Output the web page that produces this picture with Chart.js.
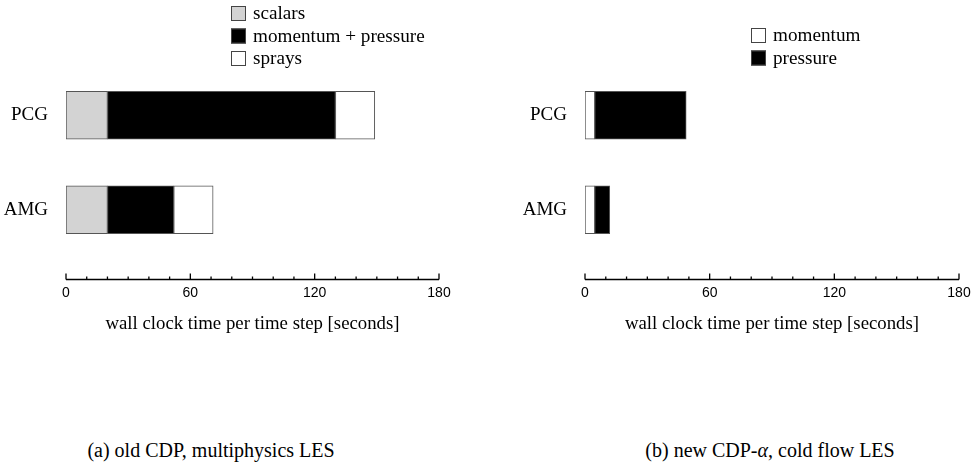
<!DOCTYPE html>
<html>
<head>
<meta charset="utf-8">
<script src="https://cdn.jsdelivr.net/npm/chart.js@4.4.1/dist/chart.umd.min.js"></script>
<style>
  body { margin: 0; background: #fff; width: 971px; height: 467px; position: relative; overflow: hidden; }
  .panel { position: absolute; top: 0; }
  .caption {
    position: absolute; top: 439px; width: 400px; text-align: center;
    font-family: "Liberation Serif", serif; font-size: 20px; color: #000;
  }
</style>
</head>
<body>
<div class="panel" style="left:0"><canvas id="oldChart" width="480" height="345"></canvas></div>
<div class="panel" style="left:480px"><canvas id="newChart" width="491" height="345"></canvas></div>
<div class="caption" style="left:11px">(a) old CDP, multiphysics LES</div>
<div class="caption" style="left:570px">(b) new CDP-<i>α</i>, cold flow LES</div>
<script>
// data (seconds per time step)
const solvers = ["PCG", "AMG"];
const oldScalars = [20, 20];
const oldMomentumPressure = [110, 32];
const oldSprays = [19, 19];
const newMomentum = [4.7, 4.7];
const newPressure = [44, 7.2];
const axisMax = 180;
const majorTicks = [0, 60, 120, 180];

const serif = "'Liberation Serif', 'Times New Roman', serif";
const sans = "'Liberation Sans', Arial, sans-serif";

// legend drawn as a stacked list of boxes, like the latex figure
const boxLegend = {
  id: "boxLegend",
  afterDraw(chart, args, opts) {
    const ctx = chart.ctx;
    ctx.save();
    ctx.font = Chart.helpers.toFont({ family: serif, size: 19.2 }).string;
    ctx.textBaseline = "middle";
    chart.data.datasets.forEach((ds, i) => {
      const top = opts.y + i * 22.5;
      ctx.fillStyle = ds.backgroundColor;
      ctx.fillRect(opts.x, top, 15, 15);
      ctx.strokeStyle = "#444";
      ctx.lineWidth = 1;
      ctx.strokeRect(opts.x + 0.5, top + 0.5, 14, 14);
      ctx.fillStyle = "#000";
      ctx.fillText(ds.label, opts.x + 22, top + 8);
    });
    ctx.restore();
  }
};

// axis line sits a little below the bars, ticks point upward
const upTicks = {
  id: "upTicks",
  afterDraw(chart) {
    const sx = chart.scales.x;
    const ctx = chart.ctx;
    const y = Math.round(chart.chartArea.bottom + 22) + 0.5;
    ctx.save();
    ctx.strokeStyle = "#000";
    ctx.lineWidth = 1.3;
    ctx.beginPath();
    ctx.moveTo(sx.getPixelForValue(0), y);
    ctx.lineTo(sx.getPixelForValue(axisMax), y);
    sx.ticks.forEach(t => {
      const px = sx.getPixelForValue(t.value);
      const len = majorTicks.includes(t.value) ? 6 : 3;
      ctx.moveTo(px, y);
      ctx.lineTo(px, y - len);
    });
    ctx.stroke();
    ctx.restore();
  }
};

function makeChart(id, datasets, yWidth, padRight, legendPos) {
  return new Chart(document.getElementById(id), {
    type: "bar",
    data: {
      labels: solvers,
      datasets: datasets.map(d => ({
        label: d.label,
        data: d.data,
        backgroundColor: d.color,
        borderColor: "#555",
        borderWidth: 1,
        borderSkipped: false,
        barThickness: 48
      }))
    },
    options: {
      indexAxis: "y",
      responsive: false,
      animation: false,
      layout: { padding: { top: 68, right: padRight, left: 0, bottom: 8 } },
      plugins: {
        legend: { display: false },
        tooltip: { enabled: false },
        boxLegend: legendPos
      },
      scales: {
        y: {
          stacked: true,
          grid: { display: false, drawTicks: false },
          border: { display: false },
          ticks: { color: "#000", font: { family: serif, size: 19 }, padding: 18 },
          afterFit: s => { s.width = yWidth; }
        },
        x: {
          stacked: true,
          min: 0,
          max: axisMax,
          // tick marks are hidden; tickLength only pushes the labels down
          grid: { display: false, drawTicks: true, tickLength: 28 },
          border: { display: false },
          ticks: {
            stepSize: 10,
            autoSkip: false,
            maxRotation: 0,
            color: "#000",
            padding: 0,
            font: { family: sans, size: 14 },
            callback: v => (majorTicks.includes(v) ? v : "")
          },
          title: {
            display: true,
            text: "wall clock time per time step [seconds]",
            color: "#000",
            font: { family: serif, size: 18.8 },
            padding: { top: 0, bottom: 2 }
          },
          afterFit: s => { s.height = 80; }
        }
      }
    },
    plugins: [boxLegend, upTicks]
  });
}

makeChart("oldChart", [
  { label: "scalars", data: oldScalars, color: "#d3d3d3" },
  { label: "momentum + pressure", data: oldMomentumPressure, color: "#000000" },
  { label: "sprays", data: oldSprays, color: "#ffffff" }
], 66, 41, { x: 231, y: 6 });

makeChart("newChart", [
  { label: "momentum", data: newMomentum, color: "#ffffff" },
  { label: "pressure", data: newPressure, color: "#000000" }
], 105, 12, { x: 271, y: 28 });
</script>
</body>
</html>
